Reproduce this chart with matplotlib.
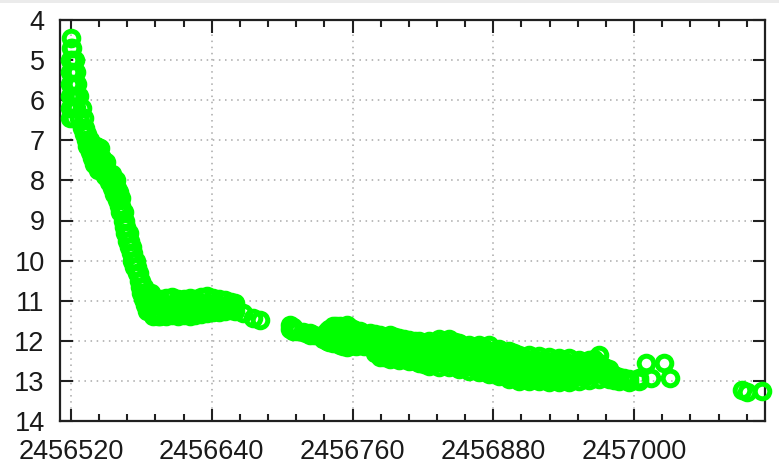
import matplotlib
matplotlib.use("Agg")
import matplotlib.pyplot as plt
from matplotlib.ticker import MultipleLocator, FixedLocator
from matplotlib.patches import Rectangle

# ---------------- data (JD, magnitude) ----------------
# outburst peak and early decline: (JD, [mags])
peak_cols = [
    (2456520, [4.45, 4.7]),
    (2456521, [4.7, 5.0, 5.3]),
    (2456519, [5.0, 5.3, 5.6, 5.9, 6.2, 6.45]),
    (2456523, [5.0]),
    (2456524, [5.3, 6.2]),
    (2456522, [5.6, 5.9, 6.2, 6.45]),
    (2456525, [5.6, 5.9]),
    (2456527, [5.9, 6.45]),
    (2456529, [6.2, 6.7]),
    (2456531, [6.45, 6.85]),
]
decline_cols = [
    (2456532, [6.7]),
    (2456534, [6.85, 7.15]),
    (2456533, [7.0]),
    (2456536, [7.0, 7.3]),
    (2456538, [7.15, 7.45]),
    (2456541, [7.15]),
    (2456540, [7.3, 7.6]),
    (2456544, [7.3, 7.6]),
    (2456545, [7.2]),
    (2456542, [7.45]),
    (2456546, [7.45]),
    (2456548, [7.6]),
    (2456550, [7.55]),
    (2456543, [7.75]),
    (2456547, [7.75]),
    (2456551, [7.75]),
    (2456555, [7.85]),
    (2456549, [7.9]),
    (2456553, [7.9]),
    (2456552, [8.05]),
    (2456556, [8.05]),
    (2456558, [8.0]),
    (2456555, [8.2]),
    (2456559, [8.2]),
    (2456557, [8.35]),
    (2456560, [8.35]),
    (2456561, [8.3]),
    (2456559, [8.5]),
    (2456562, [8.5]),
    (2456563, [8.45]),
    (2456561, [8.65]),
    (2456563, [8.65]),
    (2456562, [8.8]),
    (2456565, [8.8]),
    (2456564, [9.0]),
    (2456566, [9.0]),
    (2456565, [9.15]),
    (2456567, [9.15]),
    (2456566, [9.3]),
    (2456569, [9.3]),
    (2456568, [9.5]),
    (2456570, [9.5]),
    (2456569, [9.65]),
    (2456572, [9.65]),
    (2456571, [9.8]),
    (2456573, [9.8]),
    (2456572, [10.0]),
    (2456575, [10.0]),
    (2456574, [10.15]),
    (2456576, [10.15]),
    (2456576, [10.3]),
    (2456578, [10.3]),
    (2456578, [10.5]),
    (2456580, [10.5]),
    (2456579, [10.65]),
    (2456582, [10.65]),
    (2456580, [10.8]),
    (2456584, [10.8]),
    (2456588, [10.8]),
    (2456581, [10.95]),
    (2456586, [10.95]),
    (2456591, [10.95]),
    (2456583, [11.1]),
    (2456588, [11.1]),
    (2456585, [11.25]),
    (2456590, [11.25]),
    (2456590, [11.38]),
    (2456594, [11.38]),
]
plateau_cols = [
    (2456596, [10.95, 11.12, 11.28, 11.38]),
    (2456601, [10.93, 11.10, 11.25, 11.38]),
    (2456606, [10.92, 11.08, 11.25, 11.36]),
    (2456611, [10.95, 11.12, 11.28, 11.38]),
    (2456616, [10.97, 11.12, 11.27, 11.36]),
    (2456621, [10.93, 11.10, 11.25, 11.38]),
    (2456626, [10.95, 11.12, 11.28, 11.35]),
    (2456631, [10.90, 11.05, 11.20, 11.32]),
    (2456636, [10.88, 11.05, 11.20, 11.30]),
    (2456641, [10.93, 11.08, 11.22, 11.28]),
    (2456646, [10.97, 11.10, 11.22, 11.27]),
    (2456651, [10.98, 11.12, 11.25]),
    (2456656, [11.02, 11.15, 11.22]),
    (2456660, [11.05, 11.15, 11.25]),
    (2456666.4, [11.30]),
    (2456674.9, [11.43]),
    (2456680.8, [11.48]),
]
tail_cols = [
    (2456706.4, [11.60, 11.70]),
    (2456709.0, [11.65, 11.75]),
    (2456712.3, [11.75]),
    (2456717.5, [11.78]),
    (2456720.0, [11.80]),
    (2456723.4, [11.80, 11.85]),
    (2456727.0, [11.85]),
    (2456731.9, [11.88]),
    (2456735.0, [11.85, 11.95]),
    (2456737.9, [11.75, 11.87, 12.00]),
    (2456740.0, [11.70, 11.88, 12.02]),
    (2456743.0, [11.63, 11.80, 11.95, 12.05]),
    (2456746.0, [11.62, 11.72, 11.88, 12.02]),
    (2456748.9, [11.63, 11.80, 11.95, 12.10]),
    (2456752.0, [11.70, 11.87, 12.03, 12.12]),
    (2456754.9, [11.60, 11.78, 11.95, 12.15]),
    (2456757.0, [11.65, 11.82, 12.00, 12.12]),
    (2456760.0, [11.70, 11.90, 12.10]),
    (2456763.0, [11.80, 12.00, 12.12]),
    (2456766.0, [11.75, 11.92, 12.10]),
    (2456770.0, [11.82, 12.00, 12.12]),
    (2456774.5, [11.80, 11.95, 12.12]),
    (2456779.0, [11.82, 11.98, 12.15, 12.30]),
    (2456783.0, [11.85, 12.00, 12.20, 12.40]),
    (2456787.0, [11.90, 12.08, 12.25, 12.40]),
    (2456791.5, [11.85, 12.00, 12.15, 12.30, 12.45]),
    (2456796.0, [11.90, 12.05, 12.20, 12.38]),
    (2456800.0, [11.93, 12.10, 12.25, 12.48]),
    (2456804.0, [11.95, 12.12, 12.28, 12.45]),
    (2456808.5, [11.98, 12.15, 12.30, 12.50]),
    (2456813.0, [12.00, 12.17, 12.33, 12.50]),
    (2456817.0, [12.00, 12.18, 12.35, 12.55]),
    (2456821.0, [12.08, 12.25, 12.42, 12.58]),
    (2456825.5, [12.00, 12.15, 12.30, 12.45, 12.62]),
    (2456830.0, [12.05, 12.22, 12.38, 12.55]),
    (2456834.1, [11.95, 12.12, 12.30, 12.45, 12.65]),
    (2456838.0, [12.03, 12.20, 12.38, 12.55]),
    (2456842.6, [11.95, 12.12, 12.30, 12.50, 12.65]),
    (2456847.0, [12.02, 12.20, 12.40, 12.60]),
    (2456851.1, [12.05, 12.20, 12.35, 12.55, 12.70]),
    (2456855.0, [12.12, 12.30, 12.48, 12.65]),
    (2456859.6, [12.10, 12.25, 12.40, 12.60, 12.75]),
    (2456864.0, [12.15, 12.32, 12.50, 12.68]),
    (2456868.1, [12.10, 12.25, 12.45, 12.60, 12.78]),
    (2456872.0, [12.18, 12.38, 12.55, 12.72]),
    (2456876.6, [12.10, 12.30, 12.45, 12.65, 12.82]),
    (2456881.0, [12.25, 12.42, 12.60, 12.78]),
    (2456885.1, [12.20, 12.35, 12.50, 12.70, 12.88]),
    (2456889.0, [12.30, 12.48, 12.65, 12.85]),
    (2456893.6, [12.25, 12.40, 12.60, 12.78, 12.95]),
    (2456898.0, [12.30, 12.45, 12.60, 12.75, 12.92]),
    (2456902.1, [12.35, 12.50, 12.65, 12.82, 13.00]),
    (2456906.0, [12.42, 12.60, 12.75, 12.92]),
    (2456910.7, [12.35, 12.50, 12.68, 12.85, 13.00]),
    (2456915.0, [12.45, 12.62, 12.78, 12.95]),
    (2456919.2, [12.38, 12.55, 12.70, 12.85, 13.00]),
    (2456923.0, [12.48, 12.65, 12.80, 12.95]),
    (2456927.7, [12.40, 12.55, 12.72, 12.88, 13.02]),
    (2456932.0, [12.50, 12.68, 12.82, 12.97]),
    (2456936.2, [12.42, 12.58, 12.75, 12.90, 13.02]),
    (2456940.0, [12.50, 12.68, 12.82, 12.97]),
    (2456944.7, [12.42, 12.60, 12.75, 12.90, 13.02]),
    (2456949.0, [12.55, 12.72, 12.90]),
    (2456953.2, [12.48, 12.65, 12.82, 13.00]),
    (2456957.0, [12.55, 12.72, 12.90]),
    (2456961.7, [12.48, 12.65, 12.82, 12.98]),
    (2456966.0, [12.45, 12.62, 12.80]),
    (2456970.2, [12.35, 12.55, 12.75, 12.95]),
    (2456974.0, [12.65, 12.85]),
    (2456978.7, [12.70, 12.85, 12.95]),
    (2456983.0, [12.85, 12.98]),
    (2456987.3, [12.90, 13.00]),
    (2456991.0, [12.92]),
    (2456995.8, [12.95, 13.02]),
    (2457004.3, [12.93, 13.00]),
]
late_jd = [2457010.2, 2457014.5, 2457025.6, 2457030.6, 2457091.9, 2457096.2, 2457109.0]
late_mag = [12.55, 12.92, 12.55, 12.92, 13.22, 13.27, 13.25]

x_ticks = [2456520, 2456640, 2456760, 2456880, 2457000]
y_ticks = [4, 5, 6, 7, 8, 9, 10, 11, 12, 13, 14]

# ---------------- figure ----------------
fig = plt.figure(figsize=(7.79, 4.70), dpi=100)
fig.patch.set_facecolor("white")
fig.patches.append(Rectangle((0, 1 - 3 / 470), 1, 3 / 470, transform=fig.transFigure,
                             facecolor="#ebebeb", edgecolor="none"))
ax = fig.add_axes([60 / 779, 49 / 470, 705 / 779, 401 / 470])

jd, mag = [], []
for cols in (peak_cols, decline_cols, plateau_cols, tail_cols):
    for t, ms in cols:
        for m in ms:
            jd.append(t)
            mag.append(m)
jd += late_jd
mag += late_mag

ax.plot(jd, mag, linestyle="none", marker="o", markersize=10.5,
        markerfacecolor="none", markeredgecolor="#00ff00", markeredgewidth=3.6,
        clip_on=False, zorder=3)

ax.set_xlim(2456510.6, 2457111.6)
ax.set_ylim(14, 4)
ax.xaxis.set_major_locator(FixedLocator(x_ticks))
ax.xaxis.set_minor_locator(MultipleLocator(24))
ax.yaxis.set_major_locator(FixedLocator(y_ticks))
ax.set_xticklabels([str(v) for v in x_ticks])
ax.set_yticklabels([str(v) for v in y_ticks])

ax.grid(True, which="major", color="#a8a8a8", linestyle=(0, (1, 3)), linewidth=1.1, zorder=0)
ax.set_axisbelow(True)

for s in ax.spines.values():
    s.set_linewidth(1.6)
    s.set_color("#202020")

ax.tick_params(axis="both", which="major", direction="in", length=9, width=1.5,
               top=True, right=True, labelsize=19.5, color="#202020", pad=11)
ax.tick_params(axis="x", which="major", pad=13)
ax.tick_params(axis="x", which="minor", direction="in", length=5, width=1.5,
               top=True, color="#202020")
ax.tick_params(axis="y", which="minor", left=False, right=False)
for lab in ax.get_xticklabels() + ax.get_yticklabels():
    lab.set_fontfamily("Liberation Sans")
    lab.set_color("#1a1a1a")

fig.savefig("out.png", dpi=100)
